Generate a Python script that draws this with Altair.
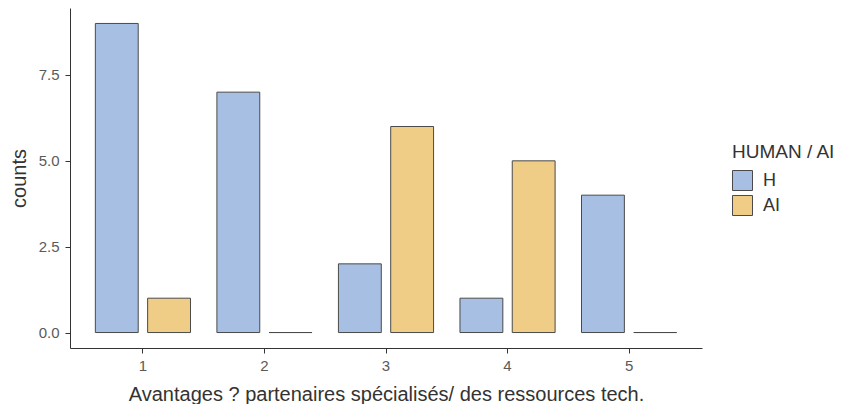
import altair as alt
import pandas as pd

categories = ["1", "2", "3", "4", "5"]
groups = ["H", "AI"]
h_counts = [9, 7, 2, 1, 4]
ai_counts = [1, 0, 6, 5, 0]

rows = []
for c, h, a in zip(categories, h_counts, ai_counts):
    rows.append({"cat": c, "grp": "H", "counts": h})
    rows.append({"cat": c, "grp": "AI", "counts": a})
df = pd.DataFrame(rows)

FONT = "Liberation Sans"

chart = alt.Chart(df).mark_bar(stroke="#4a4a4a", strokeWidth=1).encode(
    x=alt.X("cat:N", sort=categories,
            scale=alt.Scale(paddingInner=0.2, paddingOuter=0.2),
            axis=alt.Axis(title="Avantages ? partenaires spécialisés/ des ressources tech.",
                          labelAngle=0)),
    xOffset=alt.XOffset("grp:N", sort=groups,
                        scale=alt.Scale(paddingInner=0.18, paddingOuter=0.02)),
    y=alt.Y("counts:Q", scale=alt.Scale(domain=[-0.45, 9.45], nice=False, zero=False),
            axis=alt.Axis(title="counts", values=[0, 2.5, 5, 7.5], format=".1f")),
    y2=alt.datum(0),
    fill=alt.Fill("grp:N", sort=groups,
                  scale=alt.Scale(domain=groups, range=["#a7bfe3", "#f0cd87"]),
                  legend=alt.Legend(title="HUMAN /  AI", symbolType="square",
                                    symbolSize=400, symbolStrokeColor="#4a4a4a",
                                    symbolStrokeWidth=1, rowPadding=0,
                                    orient="none", legendX=662, legendY=135,
                                    padding=0, titlePadding=8, labelOffset=10)),
).properties(
    width=632, height=340,
    autosize=alt.AutoSizeParams(type="none"),
    padding={"left": 62, "top": 0, "right": 135, "bottom": 56},
).configure_view(stroke=None).configure_axis(
    grid=False, domainColor="#333333", tickColor="#333333", tickSize=5,
    labelFont=FONT, titleFont=FONT, labelColor="#5a5a5a", titleColor="#333333",
    labelFontSize=15, titleFontSize=20, titleFontWeight="normal",
    domainWidth=1, tickWidth=1,
).configure_axisX(labelPadding=5, titlePadding=11).configure_axisY(
    labelPadding=6, titlePadding=9
).configure_legend(
    titleFont=FONT, labelFont=FONT, titleFontSize=19, labelFontSize=18,
    titleFontWeight="normal", titleColor="#333333", labelColor="#333333",
)

chart.save("out.html", embed_options={"renderer": "svg", "actions": False})
